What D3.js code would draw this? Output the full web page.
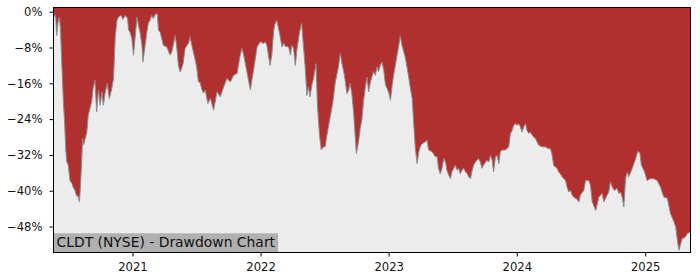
<!DOCTYPE html>
<html>
<head>
<meta charset="utf-8">
<script src="https://cdn.jsdelivr.net/npm/d3@7.9.0/dist/d3.min.js"></script>
<style>
  body { margin: 0; background: #fff; }
  svg { display: block; font-family: "DejaVu Sans", sans-serif; }
</style>
</head>
<body>
<div id="chart"></div>
<script>
// chart data
const chartTitle = 'CLDT (NYSE) - Drawdown Chart';
const yTickValues = [0, -8, -16, -24, -32, -40, -48];
const xTickDates = ['2021-01-01', '2022-01-01', '2023-01-01', '2024-01-01', '2025-01-01'];
const yDomain = [-53.8, 0.94];

// [date, drawdown %]
const drawdown = [
  ['2020-05-21', 0], ['2020-05-24', -1.2], ['2020-05-27', -0.8], ['2020-05-30', -5.3],
  ['2020-06-03', -2.3], ['2020-06-07', -1.2], ['2020-06-10', -4.1], ['2020-06-14', -12.4],
  ['2020-06-18', -19.8], ['2020-06-22', -25.4], ['2020-06-25', -30.9], ['2020-06-28', -33.6],
  ['2020-07-02', -34.3], ['2020-07-07', -37.7], ['2020-07-12', -38.3], ['2020-07-17', -39.4],
  ['2020-07-21', -39.9], ['2020-07-26', -41.2], ['2020-07-30', -41.2], ['2020-08-03', -42.5],
  ['2020-08-07', -37.2], ['2020-08-12', -28.3], ['2020-08-14', -29.8], ['2020-08-17', -29.1],
  ['2020-08-24', -26.9], ['2020-08-28', -23.1], ['2020-09-02', -21.6], ['2020-09-07', -20.0],
  ['2020-09-11', -17.1], ['2020-09-16', -15.3], ['2020-09-21', -22.4], ['2020-09-26', -17.5],
  ['2020-10-01', -20.9], ['2020-10-06', -17.9], ['2020-10-10', -20.9], ['2020-10-15', -18.2],
  ['2020-10-21', -16.0], ['2020-10-27', -19.4], ['2020-11-03', -17.2], ['2020-11-08', -14.9],
  ['2020-11-13', -5.3], ['2020-11-18', -1.9], ['2020-11-22', -1.2], ['2020-11-29', -0.8],
  ['2020-12-05', -1.7], ['2020-12-11', -0.8], ['2020-12-18', -1.5], ['2020-12-21', -4.1],
  ['2020-12-25', -4.6], ['2020-12-30', -5.9], ['2021-01-04', -9.7], ['2021-01-09', -5.3],
  ['2021-01-14', -1.2], ['2021-01-18', -3.0], ['2021-01-23', -4.8], ['2021-01-28', -7.5],
  ['2021-01-31', -11.2], ['2021-02-06', -7.5], ['2021-02-11', -4.6], ['2021-02-15', -2.6],
  ['2021-02-20', -1.9], ['2021-02-25', -0.8], ['2021-03-01', -1.5], ['2021-03-09', -0.4],
  ['2021-03-13', -0.6], ['2021-03-16', -4.1], ['2021-03-21', -4.6], ['2021-03-30', -7.5],
  ['2021-04-09', -7.9], ['2021-04-18', -9.7], ['2021-04-23', -9.0], ['2021-05-03', -5.3],
  ['2021-05-08', -8.6], ['2021-05-12', -12.0], ['2021-05-17', -13.5], ['2021-05-25', -11.7],
  ['2021-05-31', -8.2], ['2021-06-10', -7.0], ['2021-06-14', -5.6], ['2021-06-19', -7.5],
  ['2021-06-28', -10.5], ['2021-07-03', -12.4], ['2021-07-08', -15.7], ['2021-07-13', -15.8],
  ['2021-07-17', -17.2], ['2021-07-22', -18.2], ['2021-07-27', -17.5], ['2021-08-04', -20.5],
  ['2021-08-11', -19.3], ['2021-08-20', -22.0], ['2021-08-30', -17.9], ['2021-09-08', -19.0],
  ['2021-09-18', -16.8], ['2021-09-27', -14.9], ['2021-10-07', -15.7], ['2021-10-16', -14.2],
  ['2021-10-26', -13.8], ['2021-11-04', -9.7], ['2021-11-09', -8.2], ['2021-11-14', -9.7],
  ['2021-11-23', -13.4], ['2021-12-03', -17.5], ['2021-12-08', -14.9], ['2021-12-12', -13.1],
  ['2021-12-17', -10.5], ['2021-12-22', -7.9], ['2021-12-31', -6.7], ['2022-01-10', -7.1],
  ['2022-01-14', -6.7], ['2022-01-19', -7.5], ['2022-01-28', -12.0], ['2022-02-02', -9.7],
  ['2022-02-07', -4.6], ['2022-02-10', -3.0], ['2022-02-16', -1.9], ['2022-02-21', -3.7],
  ['2022-02-26', -5.6], ['2022-03-03', -7.9], ['2022-03-08', -7.0], ['2022-03-12', -7.7],
  ['2022-03-22', -7.9], ['2022-03-27', -9.7], ['2022-03-31', -7.5], ['2022-04-05', -8.2],
  ['2022-04-10', -12.0], ['2022-04-15', -8.2], ['2022-04-22', -4.6], ['2022-04-28', -2.6],
  ['2022-05-03', -7.5], ['2022-05-08', -12.3], ['2022-05-13', -18.7], ['2022-05-17', -16.8],
  ['2022-05-22', -19.0], ['2022-05-27', -16.4], ['2022-06-01', -14.9], ['2022-06-08', -11.6],
  ['2022-06-12', -20.9], ['2022-06-18', -27.6], ['2022-06-23', -30.9], ['2022-06-29', -30.2],
  ['2022-07-04', -30.2], ['2022-07-09', -27.6], ['2022-07-14', -25.4], ['2022-07-21', -22.4],
  ['2022-07-26', -20.2], ['2022-08-02', -15.7], ['2022-08-11', -12.3], ['2022-08-16', -9.3],
  ['2022-08-21', -11.6], ['2022-08-26', -13.4], ['2022-08-30', -15.3], ['2022-09-04', -18.3],
  ['2022-09-09', -17.5], ['2022-09-13', -16.0], ['2022-09-18', -18.3], ['2022-09-23', -22.4],
  ['2022-09-28', -28.3], ['2022-10-01', -31.7], ['2022-10-07', -29.1], ['2022-10-12', -26.1],
  ['2022-10-17', -23.9], ['2022-10-21', -20.2], ['2022-10-26', -17.2], ['2022-10-31', -14.6],
  ['2022-11-05', -17.9], ['2022-11-10', -15.7], ['2022-11-14', -14.6], ['2022-11-19', -13.4],
  ['2022-11-24', -14.2], ['2022-11-29', -12.3], ['2022-12-03', -13.4], ['2022-12-08', -12.0],
  ['2022-12-13', -11.2], ['2022-12-18', -13.1], ['2022-12-23', -16.4], ['2022-12-28', -17.2],
  ['2023-01-02', -18.3], ['2023-01-06', -19.8], ['2023-01-11', -16.4], ['2023-01-15', -14.2],
  ['2023-01-20', -12.0], ['2023-01-25', -9.7], ['2023-01-30', -7.5], ['2023-02-03', -5.4],
  ['2023-02-08', -7.5], ['2023-02-13', -9.0], ['2023-02-17', -10.1], ['2023-02-22', -12.3],
  ['2023-02-27', -14.6], ['2023-03-04', -17.2], ['2023-03-09', -19.4], ['2023-03-13', -24.6],
  ['2023-03-18', -30.6], ['2023-03-23', -33.9], ['2023-03-28', -31.3], ['2023-04-01', -30.2],
  ['2023-04-06', -29.5], ['2023-04-15', -29.1], ['2023-04-20', -28.7], ['2023-04-25', -30.9],
  ['2023-05-05', -31.3], ['2023-05-14', -32.4], ['2023-05-19', -32.4], ['2023-05-23', -35.0],
  ['2023-05-28', -36.2], ['2023-06-02', -35.0], ['2023-06-07', -32.8], ['2023-06-12', -33.6],
  ['2023-06-16', -35.4], ['2023-06-21', -36.5], ['2023-06-26', -37.3], ['2023-06-30', -35.8],
  ['2023-07-10', -34.3], ['2023-07-15', -35.4], ['2023-07-19', -35.0], ['2023-07-24', -36.2],
  ['2023-07-29', -35.4], ['2023-08-03', -35.0], ['2023-08-08', -35.8], ['2023-08-13', -36.2],
  ['2023-08-17', -36.9], ['2023-08-22', -37.3], ['2023-08-27', -35.4], ['2023-08-31', -34.3],
  ['2023-09-05', -33.6], ['2023-09-14', -32.8], ['2023-09-19', -33.6], ['2023-09-24', -35.0],
  ['2023-09-28', -34.3], ['2023-10-08', -33.2], ['2023-10-13', -33.6], ['2023-10-18', -32.1],
  ['2023-10-23', -33.2], ['2023-10-27', -35.8], ['2023-11-01', -32.4], ['2023-11-06', -32.1],
  ['2023-11-11', -33.9], ['2023-11-15', -31.3], ['2023-11-20', -30.9], ['2023-11-29', -30.9],
  ['2023-12-04', -30.6], ['2023-12-09', -30.2], ['2023-12-14', -27.2], ['2023-12-19', -26.5],
  ['2023-12-23', -25.4], ['2023-12-28', -25.0], ['2024-01-02', -25.4], ['2024-01-06', -25.0],
  ['2024-01-11', -25.7], ['2024-01-16', -26.9], ['2024-01-21', -25.7], ['2024-01-26', -25.0],
  ['2024-01-30', -26.5], ['2024-02-04', -27.2], ['2024-02-09', -26.9], ['2024-02-14', -27.6],
  ['2024-02-18', -28.0], ['2024-02-23', -28.3], ['2024-02-28', -29.1], ['2024-03-03', -29.8],
  ['2024-03-13', -30.2], ['2024-03-22', -30.2], ['2024-04-01', -30.6], ['2024-04-06', -30.6],
  ['2024-04-11', -32.1], ['2024-04-15', -34.3], ['2024-04-20', -34.7], ['2024-04-25', -35.0],
  ['2024-04-29', -35.8], ['2024-05-04', -36.2], ['2024-05-09', -36.9], ['2024-05-14', -37.3],
  ['2024-05-19', -37.7], ['2024-05-23', -39.1], ['2024-05-28', -40.3], ['2024-06-02', -39.9],
  ['2024-06-07', -41.0], ['2024-06-11', -41.4], ['2024-06-16', -41.7], ['2024-06-21', -41.9],
  ['2024-06-26', -42.5], ['2024-06-30', -41.0], ['2024-07-10', -39.9], ['2024-07-15', -37.7],
  ['2024-07-24', -37.7], ['2024-07-29', -38.8], ['2024-08-03', -42.5], ['2024-08-13', -44.4],
  ['2024-08-22', -41.4], ['2024-08-31', -40.6], ['2024-09-05', -42.5], ['2024-09-10', -41.7],
  ['2024-09-19', -40.3], ['2024-09-24', -38.0], ['2024-09-29', -39.1], ['2024-10-04', -39.9],
  ['2024-10-13', -39.5], ['2024-10-18', -40.6], ['2024-10-23', -40.3], ['2024-10-28', -41.7],
  ['2024-11-01', -43.6], ['2024-11-06', -37.3], ['2024-11-11', -35.8], ['2024-11-15', -36.9],
  ['2024-11-25', -35.0], ['2024-12-05', -32.8], ['2024-12-11', -31.1], ['2024-12-17', -31.7],
  ['2024-12-21', -34.3], ['2024-12-28', -35.4], ['2025-01-02', -36.5], ['2025-01-06', -37.7],
  ['2025-01-16', -37.3], ['2025-01-25', -37.3], ['2025-02-04', -37.7], ['2025-02-13', -39.1],
  ['2025-02-23', -41.4], ['2025-03-05', -41.7], ['2025-03-14', -45.1], ['2025-03-24', -47.0],
  ['2025-03-29', -48.1], ['2025-04-02', -50.7], ['2025-04-07', -53.3], ['2025-04-11', -52.2],
  ['2025-04-16', -50.7], ['2025-04-26', -50.3], ['2025-04-30', -49.6], ['2025-05-10', -49.2],
];

const parseDate = d3.timeParse('%Y-%m-%d');
const data = drawdown.map(([d, v]) => ({ date: parseDate(d), value: v }));

const width = 700, height = 280;
const plot = { left: 53.5, right: 690.5, top: 7.5, bottom: 252.5 };

const svg = d3.select('#chart').append('svg')
  .attr('width', width).attr('height', height)
  .attr('viewBox', `0 0 ${width} ${height}`);

const xScale = d3.scaleTime()
  .domain(d3.extent(data, d => d.date))
  .range([plot.left, plot.right]);
const yScale = d3.scaleLinear().domain(yDomain).range([plot.bottom, plot.top]);

svg.append('clipPath').attr('id', 'plot-clip')
  .append('rect')
  .attr('x', plot.left).attr('y', plot.top)
  .attr('width', plot.right - plot.left).attr('height', plot.bottom - plot.top);

const g = svg.append('g').attr('clip-path', 'url(#plot-clip)');

// red above the curve (drawdown), light grey below
g.append('rect')
  .attr('x', plot.left).attr('y', plot.top)
  .attr('width', plot.right - plot.left).attr('height', plot.bottom - plot.top)
  .attr('fill', '#b03030');

g.append('path').datum(data)
  .attr('fill', '#ececec')
  .attr('d', d3.area().x(d => xScale(d.date)).y0(plot.bottom).y1(d => yScale(d.value)));

g.append('path').datum(data)
  .attr('fill', 'none')
  .attr('stroke', '#8c8c8c')
  .attr('stroke-width', 1)
  .attr('d', d3.line().x(d => xScale(d.date)).y(d => yScale(d.value)));

// title box in the lower-left corner
const titleG = svg.append('g');
const titleText = titleG.append('text')
  .attr('x', plot.left + 3).attr('y', 247.3)
  .style('font-size', '13.9px').attr('fill', '#111')
  .text(chartTitle);
const tw = titleText.node().getComputedTextLength();
titleG.insert('rect', 'text')
  .attr('x', plot.left).attr('y', 233.3)
  .attr('width', tw + 6).attr('height', plot.bottom - 233.3)
  .attr('fill', '#b0b0b0');

// axes
const fmtPct = d => (d < 0 ? '\u2212' : '') + Math.abs(d) + '%';

svg.append('g')
  .attr('transform', `translate(${plot.left},0)`)
  .call(d3.axisLeft(yScale).tickValues(yTickValues).tickFormat(fmtPct).tickSize(4).tickPadding(7))
  .call(a => a.select('.domain').remove())
  .call(a => a.selectAll('text').style('font-size', '11.6px').attr('fill', '#111').style('font-family', '"DejaVu Sans", sans-serif'));

svg.append('g')
  .attr('transform', `translate(0,${plot.bottom})`)
  .call(d3.axisBottom(xScale).tickValues(xTickDates.map(parseDate)).tickFormat(d3.timeFormat('%Y')).tickSize(4).tickPadding(6))
  .call(a => a.select('.domain').remove())
  .call(a => a.selectAll('text').style('font-size', '11.6px').attr('fill', '#111').style('font-family', '"DejaVu Sans", sans-serif'));

// frame
svg.append('rect')
  .attr('x', plot.left).attr('y', plot.top)
  .attr('width', plot.right - plot.left).attr('height', plot.bottom - plot.top)
  .attr('fill', 'none').attr('stroke', '#000').attr('stroke-width', 1);
</script>
</body>
</html>
